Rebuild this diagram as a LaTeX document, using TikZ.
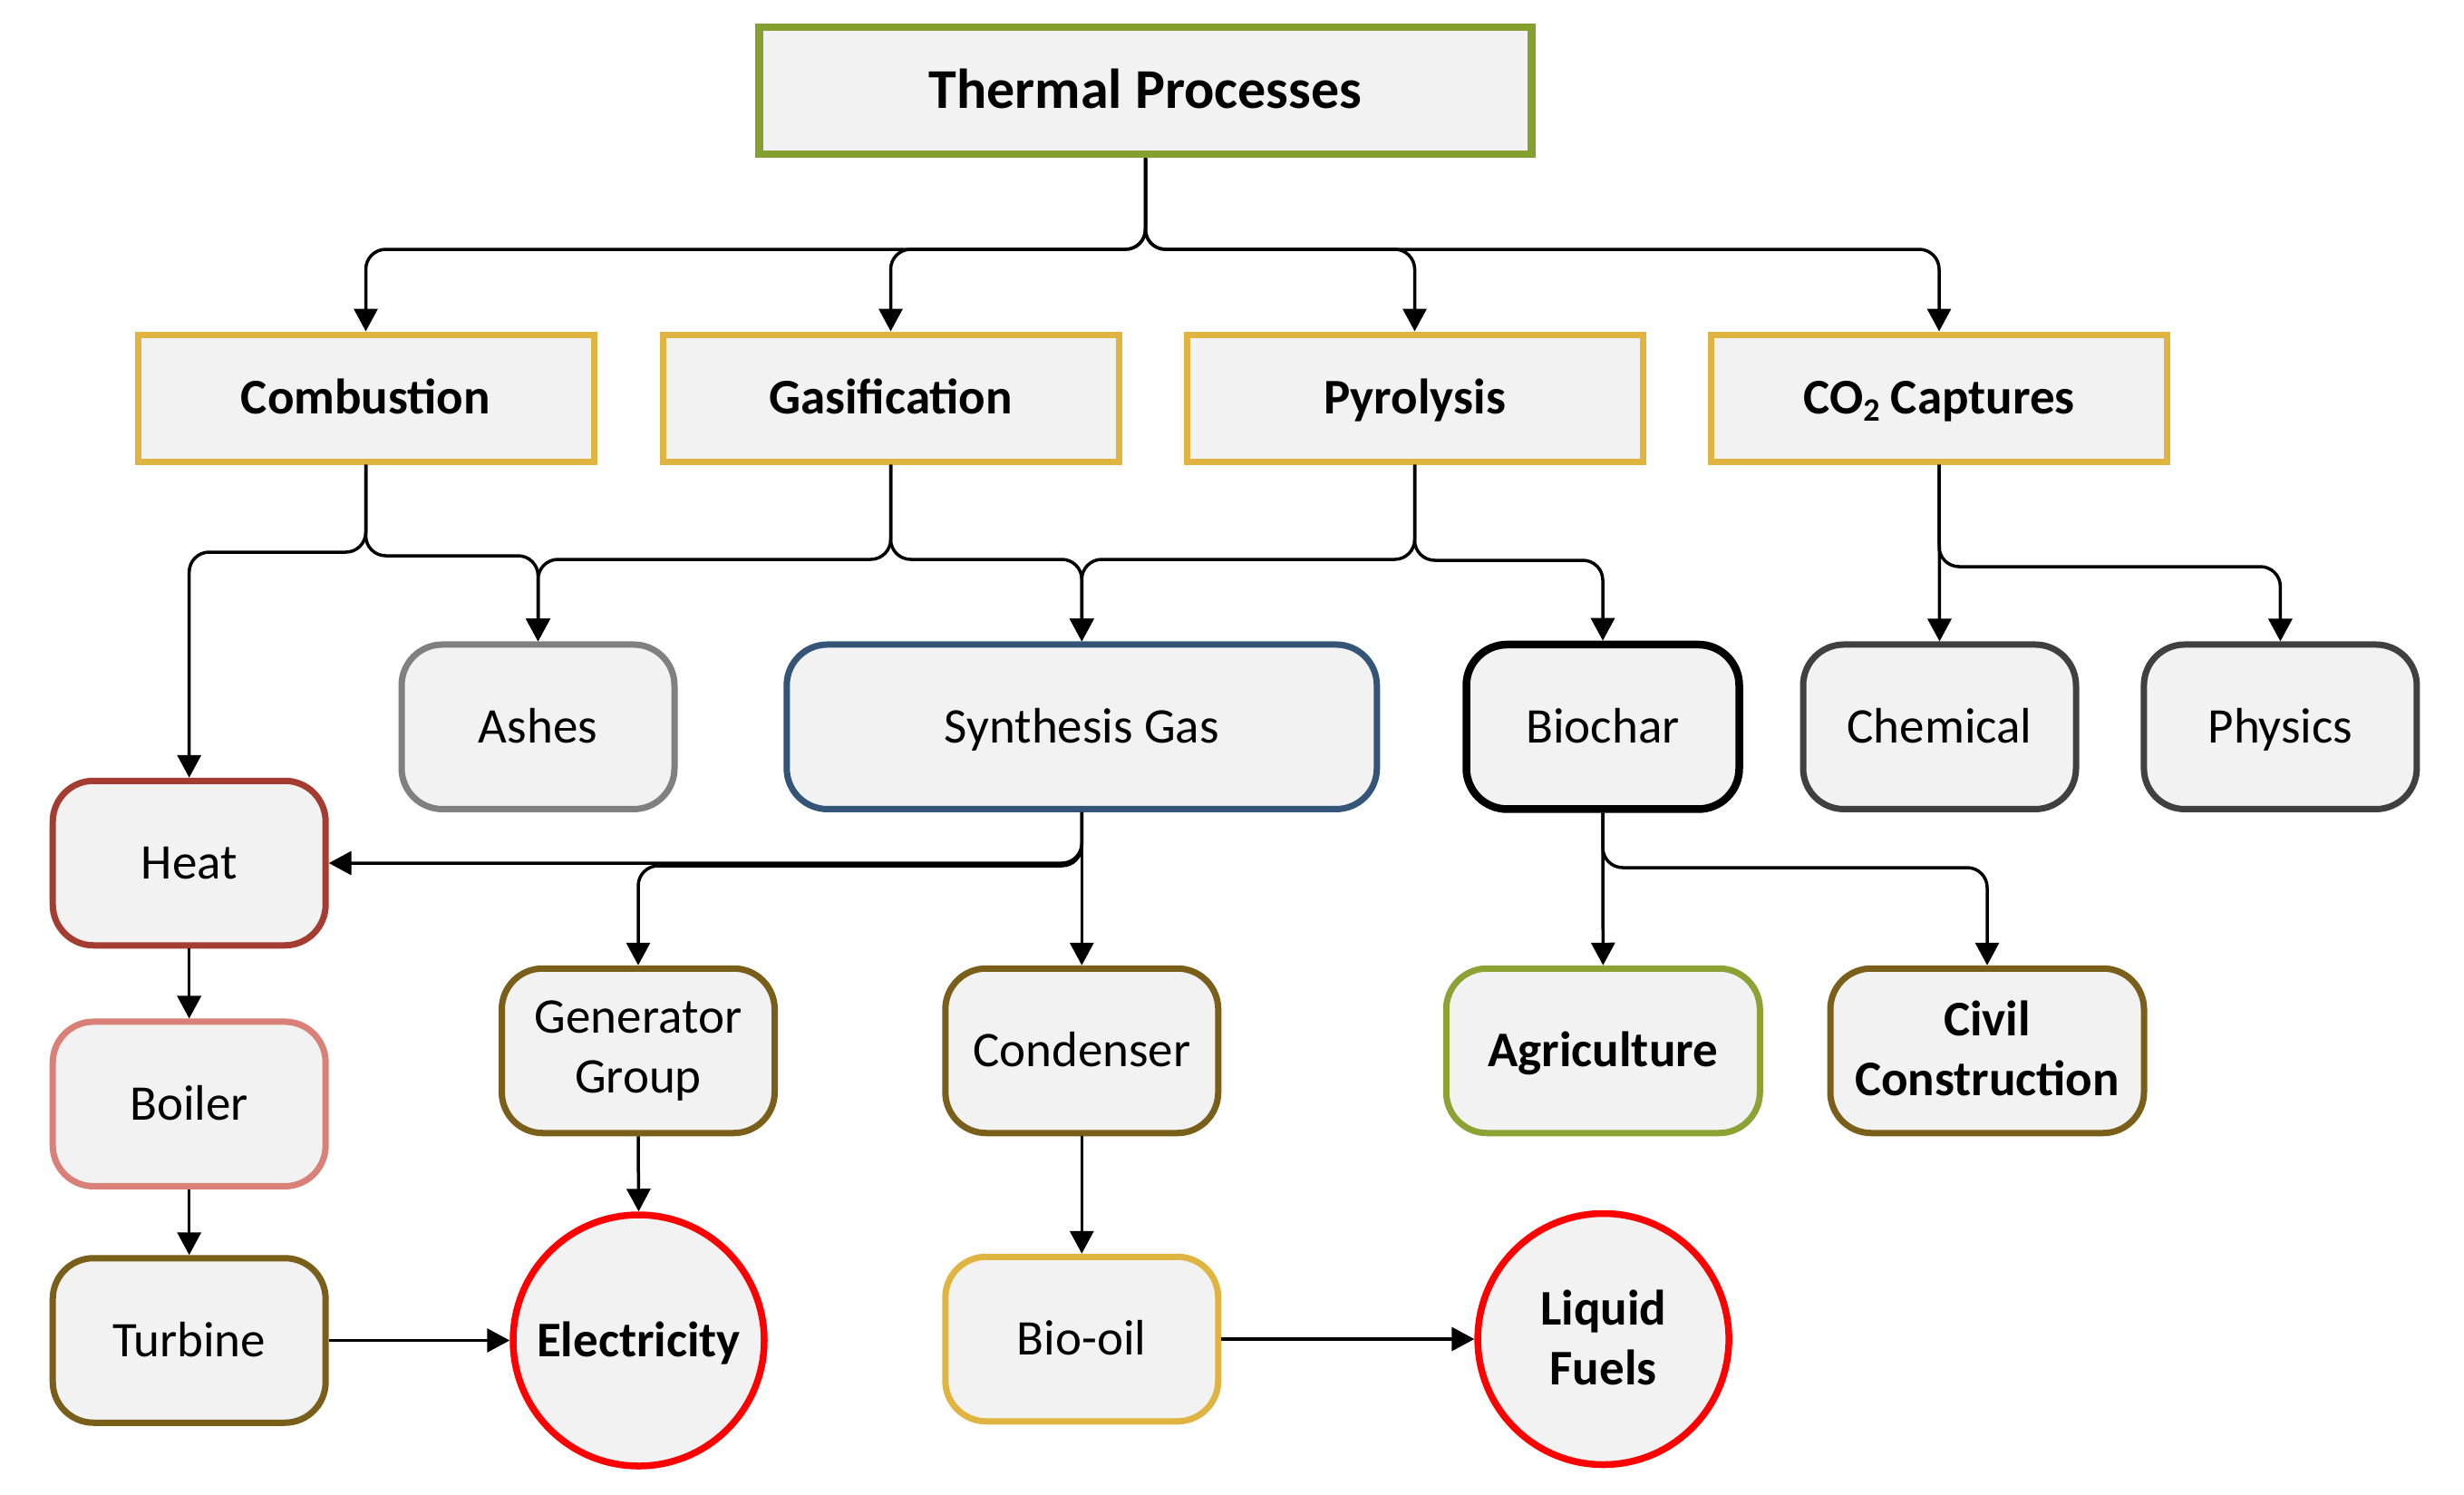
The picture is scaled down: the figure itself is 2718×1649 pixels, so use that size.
\documentclass[tikz,border=0pt]{standalone}
\usepackage{fontspec}
\setmainfont{Carlito}
\usetikzlibrary{arrows.meta}
\definecolor{boxfill}{RGB}{242,242,242}
\definecolor{tpgreen}{RGB}{134,160,48}
\definecolor{agrgreen}{RGB}{140,163,52}
\definecolor{gold}{RGB}{224,180,65}
\definecolor{ashgray}{RGB}{128,128,128}
\definecolor{synblue}{RGB}{53,85,120}
\definecolor{darkgray}{RGB}{64,64,64}
\definecolor{heatred}{RGB}{165,60,50}
\definecolor{boilerpink}{RGB}{217,128,120}
\definecolor{brownish}{RGB}{122,95,26}
\definecolor{pured}{RGB}{255,0,0}
\begin{document}
\begin{tikzpicture}[x=1pt,y=-1pt,
  box/.style={draw, fill=boxfill, line width=7pt, align=center, inner sep=0pt,
    font=\fontsize{55}{66}\selectfont},
  sq/.style={box, rectangle, minimum width=503pt, minimum height=140pt,
    font=\fontsize{55}{66}\selectfont\bfseries, text height=35.4pt, text depth=0pt},
  rbox/.style={box, rectangle, rounded corners=45pt, minimum width=301pt, minimum height=181.5pt},
  one/.style={text height=35.4pt, text depth=0pt},
  circ/.style={box, circle, minimum size=277pt, line width=7.5pt,
    font=\fontsize{55}{66}\selectfont\bfseries},
  conn/.style={draw=black, line width=3.5pt, rounded corners=22pt,
    -{Triangle[length=25pt,width=26pt]}}
]
\useasboundingbox (0,0) rectangle (2718,1649);

% level 1
\node[sq, draw=tpgreen, line width=8.5pt, minimum width=852pt,
  font=\fontsize{62}{74}\selectfont\bfseries, text height=39.9pt] (tp) at (1263.5,100) {Thermal Processes};

% level 2
\node[sq, draw=gold] (comb) at (403.5,439) {Combustion};
\node[sq, draw=gold] (gas)  at (982.5,439) {Gasification};
\node[sq, draw=gold] (pyr)  at (1560.5,439) {Pyrolysis};
\node[sq, draw=gold] (co2)  at (2139,439) {CO{\fontsize{36}{40}\selectfont\raisebox{-8pt}{2}} Captures};

% level 3
\node[rbox, one, draw=ashgray] (ash) at (593.5,801.7) {Ashes};
\node[rbox, one, draw=synblue, minimum width=651pt] (syn) at (1193.3,801.7) {Synthesis Gas};
\node[rbox, one, draw=black, line width=8.5pt] (bio) at (1768,801.7) {Biochar};
\node[rbox, one, draw=darkgray] (chem) at (2139.5,801.7) {Chemical};
\node[rbox, one, draw=darkgray] (phys) at (2515.4,801.7) {Physics};

% left column
\node[rbox, one, draw=heatred] (heat) at (208.7,952) {Heat};
\node[rbox, one, draw=boilerpink] (boil) at (208.7,1217.7) {Boiler};
\node[rbox, one, draw=brownish] (turb) at (208.7,1478.5) {Turbine};

% level 4
\node[rbox, draw=brownish] (gen) at (704,1159) {Generator\\Group};
\node[rbox, one, draw=brownish] (cond) at (1193.3,1159) {Condenser};
\node[rbox, one, draw=agrgreen, minimum width=346pt, font=\fontsize{55}{66}\selectfont\bfseries] (agr) at (1768.3,1159) {Agriculture};
\node[rbox, draw=brownish, minimum width=346pt, font=\fontsize{55}{66}\selectfont\bfseries, text depth=6pt] (civ) at (2192,1159) {Civil\\Construction};

% bottom row
\node[circ, draw=pured, text height=35.4pt, text depth=0pt] (elec) at (704.5,1478.5) {Electricity};
\node[rbox, one, draw=gold] (oil) at (1193.3,1477) {Bio-oil};
\node[circ, draw=pured, text depth=3pt] (liq) at (1768.6,1477) {Liquid\\Fuels};

% junction levels
\coordinate (j1) at (0,275);
\coordinate (jc1) at (0,609);
\coordinate (jc2) at (0,613);
\coordinate (jg) at (0,617);
\coordinate (jp2) at (0,618);
\coordinate (jco) at (0,625);
\coordinate (js) at (0,955);
\coordinate (jb) at (0,957);

% connectors
\foreach \t in {comb,gas,pyr,co2}
  \draw[conn] (tp.south) -- (tp.south |- j1) -| (\t.north);
\draw[conn] (comb.south) -- (comb.south |- jc1) -| (heat.north);
\draw[conn] (comb.south) -- (comb.south |- jc2) -| (ash.north);
\draw[conn] (gas.south) -- (gas.south |- jg) -| (ash.north);
\draw[conn] (gas.south) -- (gas.south |- jg) -| (syn.north);
\draw[conn] (pyr.south) -- (pyr.south |- jg) -| (syn.north);
\draw[conn] (pyr.south) -- (pyr.south |- jp2) -| (bio.north);
\draw[conn] (co2.south) -- (chem.north);
\draw[conn] (co2.south) -- (co2.south |- jco) -| (phys.north);
\draw[conn] (syn.south) |- (heat.east);
\draw[conn] (syn.south) -- (syn.south |- js) -| (gen.north);
\draw[conn] (syn.south) -- (cond.north);
\draw[conn] (bio.south) -- (agr.north);
\draw[conn] (bio.south) -- (bio.south |- jb) -| (civ.north);
\draw[conn] (heat.south) -- (boil.north);
\draw[conn] (boil.south) -- (turb.north);
\draw[conn] (turb.east) -- (elec.west);
\draw[conn] (gen.south) -- (elec.north);
\draw[conn] (cond.south) -- (oil.north);
\draw[conn] (oil.east) -- (liq.west);
\end{tikzpicture}
\end{document}
